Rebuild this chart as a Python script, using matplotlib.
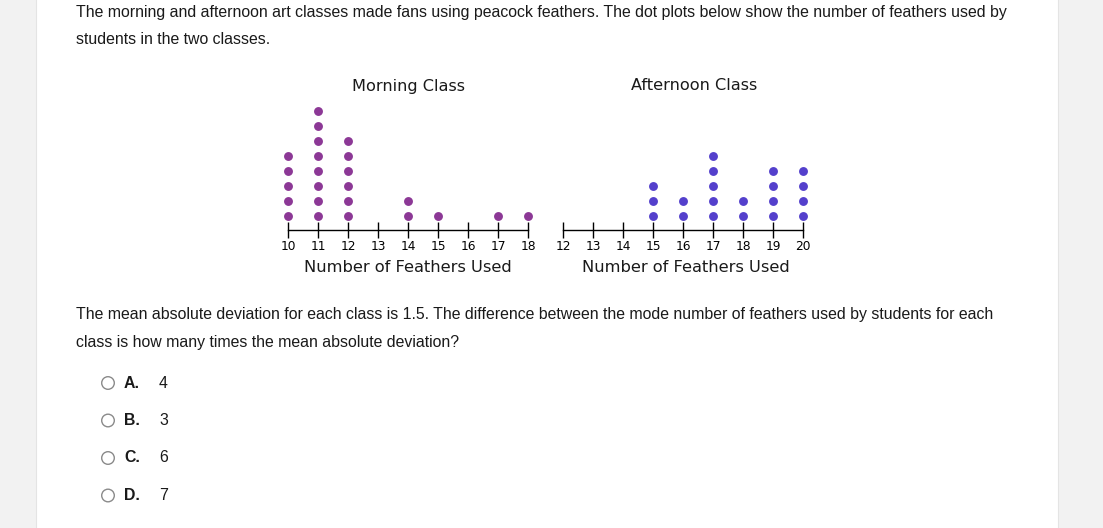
import matplotlib.pyplot as plt
from matplotlib.patches import Rectangle, Circle

# data
morning_values = [10, 11, 12, 13, 14, 15, 16, 17, 18]
morning_counts = [5, 8, 6, 0, 2, 1, 0, 1, 1]
afternoon_values = [12, 13, 14, 15, 16, 17, 18, 19, 20]
afternoon_counts = [0, 0, 0, 3, 2, 5, 2, 4, 4]

question_1 = ["The morning and afternoon art classes made fans using peacock feathers. "
              "The dot plots below show the number of feathers used by",
              "students in the two classes."]
question_2 = ["The mean absolute deviation for each class is 1.5. The difference between "
              "the mode number of feathers used by students for each",
              "class is how many times the mean absolute deviation?"]
choice_letters = ["A.", "B.", "C.", "D."]
choice_values = ["4", "3", "6", "7"]

W, H = 1103, 528
dpi = 100
fig = plt.figure(dpi=dpi, figsize=(W / dpi, H / dpi))
fig.patch.set_facecolor('#f2f2f2')

text_font = 'Liberation Sans'
plot_font = 'DejaVu Sans'

# page background in pixel coordinates
bg = fig.add_axes([0, 0, 1, 1], zorder=-10)
bg.set_xlim(0, W)
bg.set_ylim(H, 0)
bg.axis('off')
bg.add_patch(Rectangle((36, -2), 1058 - 36, H + 4, facecolor='white',
                       edgecolor='#e4e4e4', lw=0.8))

# question text
for i, line in enumerate(question_1):
    bg.text(76, 12 + 27 * i, line, fontsize=11.4, family=text_font,
            va='center', ha='left', color='#1a1a1a')
for i, line in enumerate(question_2):
    bg.text(76, 315 + 27 * i, line, fontsize=11.4, family=text_font,
            va='center', ha='left', color='#1a1a1a')

# answer choices
for i, (let, val) in enumerate(zip(choice_letters, choice_values)):
    y = 383 + 37.5 * i
    bg.add_patch(Circle((108, y), 6.3, facecolor='white', edgecolor='#8a8a8a', lw=1.0))
    bg.text(124, y, let, fontsize=11.4, family=text_font, fontweight='bold',
            va='center', ha='left', color='#1a1a1a')
    bg.text(159, y, val, fontsize=11.4, family=text_font,
            va='center', ha='left', color='#1a1a1a')


def dot_plot(x0_px, values, counts, color, title, title_dx, label_dx):
    # 30 px per unit on x, 15 px per dot on y; axis line at y=230 px
    left = x0_px - 15
    width = 30 * (len(values))
    bottom = 230 + 15 * 1.2
    top = 230 - 15 * 9
    ax = fig.add_axes([left / W, 1 - bottom / H, width / W, (bottom - top) / H])
    ax.set_xlim(values[0] - 0.5, values[-1] + 0.5)
    ax.set_ylim(-1.2, 9)
    ax.patch.set_alpha(0)
    for v, c in zip(values, counts):
        if c:
            ax.plot([v] * c, [k - 0.05 for k in range(1, c + 1)], 'o', color=color,
                    markersize=6.4, markeredgewidth=0, clip_on=False)
    for s in ['top', 'left', 'right']:
        ax.spines[s].set_visible(False)
    ax.spines['bottom'].set_position(('data', 0))
    ax.spines['bottom'].set_bounds(values[0], values[-1])
    ax.spines['bottom'].set_linewidth(1.0)
    ax.set_yticks([])
    ax.set_xticks(values)
    ax.set_xticklabels([str(v) for v in values], family=plot_font)
    ax.tick_params(axis='x', direction='inout', length=12, width=1, labelsize=8.8,
                   pad=1, colors='black')
    mid = (values[0] + values[-1]) / 2
    ax.text(mid + label_dx, -2.47, 'Number of Feathers Used',
            family=plot_font, fontsize=11.7, ha='center', va='center', color='#1a1a1a')
    ax.text(mid + title_dx, 9.6, title,
            family=plot_font, fontsize=11.6, ha='center', va='center', color='#1a1a1a')
    return ax


dot_plot(288, morning_values, morning_counts, '#8c3896', 'Morning Class', 0.0, 0.0)
dot_plot(563, afternoon_values, afternoon_counts, '#5440cc', 'Afternoon Class', 0.37, 0.08)

fig.savefig('out.png', dpi=dpi)
